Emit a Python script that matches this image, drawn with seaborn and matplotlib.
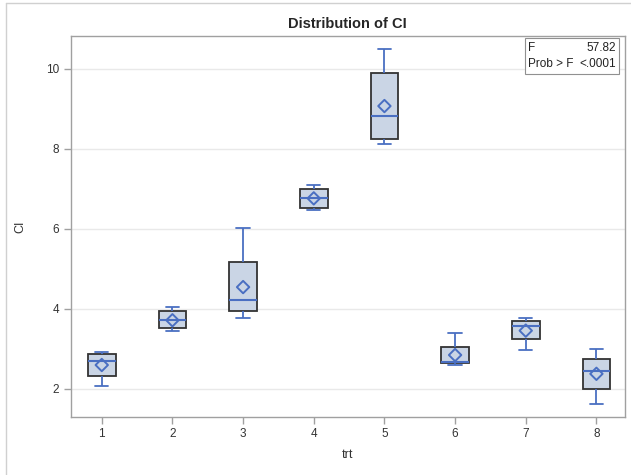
import matplotlib
matplotlib.use("Agg")
import matplotlib.pyplot as plt
import seaborn as sns
import pandas as pd
from matplotlib.lines import Line2D
from matplotlib.patches import Rectangle

# Five-number summaries per treatment (min, Q1, median, Q3, max)
trt = ["1", "2", "3", "4", "5", "6", "7", "8"]
ci_min = [2.07, 3.43, 3.76, 6.47, 8.13, 2.59, 2.97, 1.62]
ci_q1 = [2.32, 3.51, 3.94, 6.53, 8.24, 2.63, 3.24, 2.00]
ci_med = [2.70, 3.71, 4.22, 6.76, 8.82, 2.66, 3.57, 2.45]
ci_q3 = [2.87, 3.93, 5.18, 6.99, 9.90, 3.04, 3.68, 2.75]
ci_max = [2.92, 4.05, 6.01, 7.09, 10.49, 3.38, 3.77, 2.99]
ci_mean = [2.59, 3.71, 4.54, 6.76, 9.07, 2.84, 3.45, 2.37]
yticks = [2, 4, 6, 8, 10]

rows = []
for i, t in enumerate(trt):
    for v in (ci_min[i], ci_q1[i], ci_med[i], ci_q3[i], ci_max[i]):
        rows.append({"trt": t, "CI": v})
df = pd.DataFrame(rows)
mdf = pd.DataFrame({"trt": trt, "CI": ci_mean})

sns.set_style("white")
plt.rcParams["font.family"] = ["Arial", "Liberation Sans", "DejaVu Sans"]

fig = plt.figure(figsize=(6.31, 4.75), dpi=100)
ax = fig.add_axes([0.112, 0.123, 0.878, 0.801])

blue = "#4A6FC2"
for y in yticks:
    ax.axhline(y, color="#E9E9E9", lw=1, zorder=0)

sns.boxplot(data=df, x="trt", y="CI", order=trt, whis=(0, 100), width=0.39,
            color="#CAD5E5", saturation=1, linewidth=1.2, ax=ax,
            boxprops=dict(facecolor="#CAD5E5", edgecolor="#333333", linewidth=1.3, zorder=2),
            whiskerprops=dict(color=blue, linewidth=1.3),
            capprops=dict(color=blue, linewidth=1.3),
            medianprops=dict(color=blue, linewidth=1.5),
            capwidths=0.19, showfliers=False)

sns.scatterplot(data=mdf, x="trt", y="CI", marker="D", s=40, facecolor="none",
                edgecolor=blue, linewidth=1.4, ax=ax, zorder=5)

ax.set_xlim(-0.44, 7.40)
ax.set_ylim(1.3, 10.82)
ax.set_yticks(yticks)
ax.set_yticklabels([str(v) for v in yticks])
ax.tick_params(axis="both", labelsize=8.5, colors="#333333", length=5, width=1,
               direction="out", left=True, bottom=True)
ax.tick_params(axis="both", color="#A0A0A0")
for s in ax.spines.values():
    s.set_color("#A0A0A0")
    s.set_linewidth(1)
ax.set_xlabel("trt", fontsize=9, color="#333333", labelpad=6)
ax.set_ylabel("CI", fontsize=9, color="#333333", labelpad=14)
ax.set_title("Distribution of CI", fontsize=10.5, fontweight="bold", pad=6)

# Inset statistics box
ax.add_patch(Rectangle((0.820, 0.900), 0.169, 0.095, transform=ax.transAxes,
                       fc="white", ec="#909090", lw=0.8, zorder=6))
ax.text(0.826, 0.9475, "F\nProb > F", transform=ax.transAxes, ha="left", va="center",
        fontsize=8.5, color="#222222", linespacing=1.4, zorder=7)
ax.text(0.984, 0.9475, "57.82\n<.0001", transform=ax.transAxes, ha="right", va="center",
        fontsize=8.5, color="#222222", linespacing=1.4, zorder=7)

# Outer frame (top and left)
fig.add_artist(Line2D([6/631, 6/631], [0, 1 - 3/475], transform=fig.transFigure,
                      color="#D0D0D0", lw=1))
fig.add_artist(Line2D([6/631, 1], [1 - 3/475, 1 - 3/475], transform=fig.transFigure,
                      color="#D0D0D0", lw=1))

fig.savefig("out.png", dpi=100)
